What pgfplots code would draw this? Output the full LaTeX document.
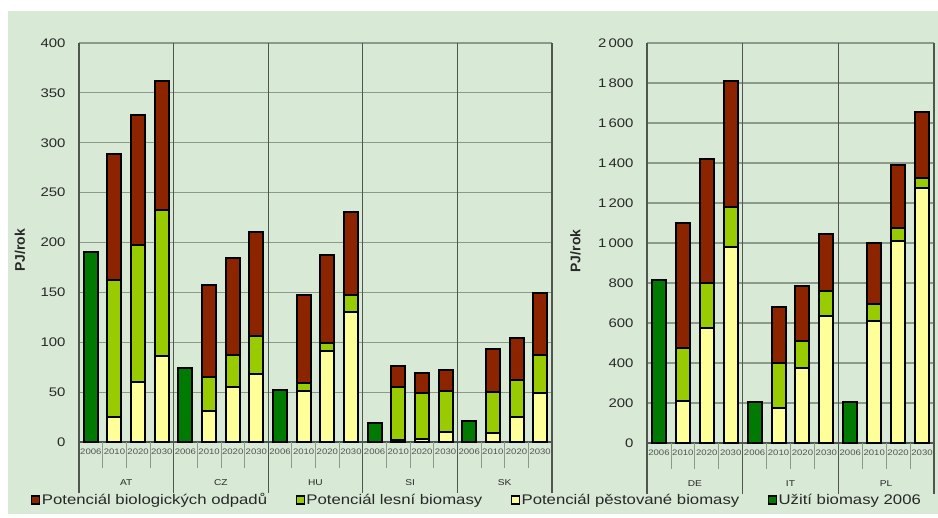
\documentclass[border=0pt]{standalone}
\usepackage{pgfplots}
\pgfplotsset{compat=1.18}
\usepackage{pgfplotstable}
\usepackage{fontspec}
\setmainfont{Liberation Sans}[FakeStretch=1.2]
\newfontfamily\labfont{Liberation Sans}

\definecolor{bgc}{RGB}{216,234,214}
\definecolor{cbio}{RGB}{140,36,0}
\definecolor{cles}{RGB}{153,204,0}
\definecolor{cpes}{RGB}{255,255,153}
\definecolor{cuzi}{RGB}{0,122,0}
\definecolor{gridc}{RGB}{140,154,140}
\definecolor{sepc}{RGB}{80,85,80}
\definecolor{tickc}{RGB}{40,40,40}

\pgfplotstableread{
x g p l b
0 190 0 0 0
1 0 25 137 127
2 0 60 137 131
3 0 86 147 129
4 74 0 0 0
5 0 31 34 92
6 0 55 32 97
7 0 68 38 105
8 52 0 0 0
9 0 51 8 88
10 0 91 8 88
11 0 130 17 84
12 19 0 0 0
13 0 2 53 21
14 0 3 46 20
15 0 10 41 21
16 21 0 0 0
17 0 9 41 43
18 0 25 37 42
19 0 49 38 62
}\lefttab

\pgfplotstableread{
x g p l b
0 815 0 0 0
1 0 210 265 625
2 0 575 225 620
3 0 980 200 630
4 205 0 0 0
5 0 175 225 280
6 0 375 135 275
7 0 635 125 285
8 205 0 0 0
9 0 610 85 305
10 0 1010 65 315
11 0 1275 50 330
}\righttab

\tikzset{grp/.style={font=\fontsize{8.5}{9}\selectfont, text=tickc, yshift=-41bp}}

\pgfplotsset{
 mybar/.style={fill=#1, draw=black, line width=2bp,
   legend image code/.code={\draw[fill=#1,draw=black,line width=1.3bp] (0bp,-4bp) rectangle (8bp,4bp);}},
 chart/.style={
   scale only axis, ybar stacked, bar width=14bp,
   axis x line*=bottom, axis y line*=left,
   axis line style={draw=sepc, line width=1.3bp, -},
   ymin=0, ymajorgrids, grid style={draw=gridc, line width=1.1bp},
   major tick length=0pt, minor tick length=0pt,
   xticklabel style={font=\fontsize{8}{9}\selectfont, text=tickc!80, yshift=-3bp},
   yticklabel style={font=\fontsize{12.5}{14}\selectfont, text=tickc, xshift=-10bp},
   /pgf/number format/assume math mode=true,
   /pgf/number format/1000 sep={\,},
   scaled y ticks=false,
   clip=false,
   ylabel={PJ/rok},
 },
}

\begin{document}
\begin{tikzpicture}
\path[use as bounding box, fill=white] (0,0) rectangle (938bp,-518bp);
\fill[bgc] (8bp,-11bp) rectangle (938bp,-514bp);

\begin{axis}[chart, at={(79bp,-442bp)}, anchor=south west, width=473bp, height=399bp,
  xmin=-0.5, xmax=19.5, ymax=400, ytick={0,50,...,400},
  xtick={0,...,19},
  xticklabels={2006,2010,2020,2030,2006,2010,2020,2030,2006,2010,2020,2030,2006,2010,2020,2030,2006,2010,2020,2030},
  every axis y label/.style={at={(axis description cs:-0.1247,0.48)}, rotate=90, anchor=center,
    font=\labfont\bfseries\fontsize{14}{16}\selectfont, text=tickc},
  legend style={at={(axis description cs:-0.1015,-0.145)}, anchor=west, draw=none, fill=none,
    inner sep=0pt, font=\fontsize{14}{16}\selectfont, text=tickc, legend columns=4,
    /tikz/every even column/.append style={column sep=27bp}, nodes={inner sep=1.5bp}},
  reverse legend, legend cell align=left]
\addplot[mybar=cuzi] table[x=x,y=g]{\lefttab};
\addlegendentry{Užití biomasy 2006}
\addplot[mybar=cpes] table[x=x,y=p]{\lefttab};
\addlegendentry{Potenciál pěstované biomasy}
\addplot[mybar=cles] table[x=x,y=l]{\lefttab};
\addlegendentry{Potenciál lesní biomasy}
\addplot[mybar=cbio] table[x=x,y=b]{\lefttab};
\addlegendentry{Potenciál biologických odpadů}
\pgfplotsinvokeforeach{-0.5,3.5,7.5,11.5,15.5,19.5}{\draw[sepc, line width=1.2bp] (axis cs:#1,400) -- ([yshift=-51bp]axis cs:#1,0);}
\pgfplotsinvokeforeach{0.5,1.5,2.5,4.5,5.5,6.5,8.5,9.5,10.5,12.5,13.5,14.5,16.5,17.5,18.5}{\draw[gridc, line width=0.8bp] (axis cs:#1,0) -- ([yshift=-26bp]axis cs:#1,0);}
\node[grp] at (axis cs:1.5,0) {AT};
\node[grp] at (axis cs:5.5,0) {CZ};
\node[grp] at (axis cs:9.5,0) {HU};
\node[grp] at (axis cs:13.5,0) {SI};
\node[grp] at (axis cs:17.5,0) {SK};
\end{axis}

\begin{axis}[chart, at={(647bp,-443bp)}, anchor=south west, width=287bp, height=400bp,
  xmin=-0.5, xmax=11.5, ymax=2000, ytick={0,200,...,2000},
  xtick={0,...,11},
  xticklabels={2006,2010,2020,2030,2006,2010,2020,2030,2006,2010,2020,2030},
  every axis y label/.style={at={(axis description cs:-0.249,0.48)}, rotate=90, anchor=center,
    font=\labfont\bfseries\fontsize{14}{16}\selectfont, text=tickc}]
\addplot[mybar=cuzi] table[x=x,y=g]{\righttab};
\addplot[mybar=cpes] table[x=x,y=p]{\righttab};
\addplot[mybar=cles] table[x=x,y=l]{\righttab};
\addplot[mybar=cbio] table[x=x,y=b]{\righttab};
\pgfplotsinvokeforeach{-0.5,3.5,7.5,11.5}{\draw[sepc, line width=1.2bp] (axis cs:#1,2000) -- ([yshift=-51bp]axis cs:#1,0);}
\pgfplotsinvokeforeach{0.5,1.5,2.5,4.5,5.5,6.5,8.5,9.5,10.5}{\draw[gridc, line width=0.8bp] (axis cs:#1,0) -- ([yshift=-26bp]axis cs:#1,0);}
\node[grp] at (axis cs:1.5,0) {DE};
\node[grp] at (axis cs:5.5,0) {IT};
\node[grp] at (axis cs:9.5,0) {PL};
\end{axis}
\end{tikzpicture}
\end{document}
